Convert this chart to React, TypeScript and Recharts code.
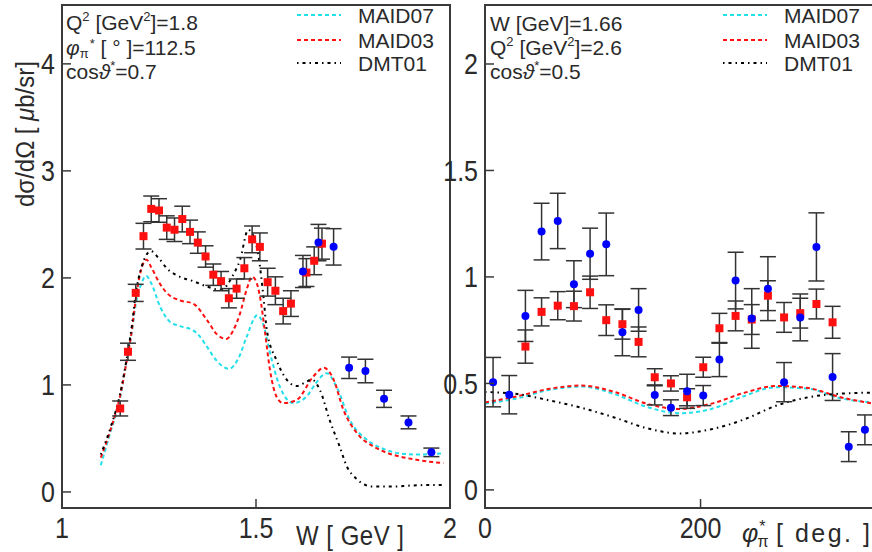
import React from 'react'
import { ComposedChart, Line, Scatter, XAxis, YAxis, ErrorBar, ReferenceArea } from 'recharts'

// ---- left panel: W dependence (Q2=1.8, phi=112.5, cos=0.7) ----
const maid07W: [number, number][] = [
  [1.1, 0.25], [1.125, 0.56], [1.15, 0.88], [1.165, 1.2], [1.18, 1.5], [1.19, 1.75],
  [1.205, 1.95], [1.217, 2.02], [1.23, 1.95], [1.253, 1.73], [1.278, 1.59], [1.304, 1.55],
  [1.338, 1.51], [1.356, 1.45], [1.373, 1.36], [1.4, 1.22], [1.43, 1.15], [1.455, 1.25],
  [1.476, 1.45], [1.503, 1.65], [1.52, 1.55], [1.536, 1.3], [1.562, 0.98], [1.596, 0.83],
  [1.63, 0.89], [1.655, 1.02], [1.682, 1.11], [1.708, 0.98], [1.742, 0.67], [1.785, 0.49],
  [1.83, 0.4], [1.871, 0.36], [1.92, 0.35], [1.98, 0.36],
]
const maid03W: [number, number][] = [
  [1.1, 0.32], [1.125, 0.58], [1.15, 0.9], [1.167, 1.23], [1.18, 1.51], [1.19, 1.8],
  [1.205, 2.09], [1.218, 2.17], [1.23, 2.1], [1.25, 1.96], [1.27, 1.86], [1.304, 1.79],
  [1.338, 1.76], [1.373, 1.61], [1.4, 1.47], [1.424, 1.43], [1.44, 1.5], [1.459, 1.67],
  [1.475, 1.88], [1.49, 2.01], [1.5, 1.97], [1.51, 1.83], [1.523, 1.5], [1.536, 1.14],
  [1.553, 0.89], [1.57, 0.83], [1.605, 0.86], [1.648, 1.08], [1.675, 1.16], [1.7, 1.05],
  [1.725, 0.77], [1.76, 0.55], [1.8, 0.43], [1.828, 0.38], [1.914, 0.3], [1.983, 0.27],
]
const dmt01W: [number, number][] = [
  [1.1, 0.35], [1.125, 0.6], [1.15, 0.92], [1.167, 1.25], [1.18, 1.55], [1.19, 1.85],
  [1.205, 2.1], [1.229, 2.25], [1.25, 2.18], [1.27, 2.09], [1.304, 2.01], [1.338, 1.97],
  [1.373, 1.92], [1.407, 1.89], [1.42, 1.91], [1.44, 2.02], [1.459, 2.17], [1.48, 2.45],
  [1.502, 2.29], [1.519, 1.83], [1.528, 1.51], [1.553, 1.23], [1.579, 1.05], [1.605, 0.99],
  [1.63, 1.03], [1.644, 1.05], [1.665, 0.95], [1.69, 0.67], [1.716, 0.42], [1.734, 0.24],
  [1.76, 0.12], [1.8, 0.05], [1.85, 0.05], [1.9, 0.06], [1.95, 0.065], [1.98, 0.065],
]
// [W, value, error]
const redW: [number, number, number][] = [
  [1.15, 0.78, 0.07], [1.17, 1.31, 0.08], [1.19, 1.86, 0.08], [1.21, 2.39, 0.12],
  [1.23, 2.645, 0.12], [1.25, 2.63, 0.11], [1.27, 2.47, 0.11], [1.29, 2.45, 0.11],
  [1.31, 2.55, 0.12], [1.33, 2.43, 0.11], [1.35, 2.33, 0.1], [1.37, 2.2, 0.1],
  [1.39, 2.03, 0.1], [1.41, 1.97, 0.09], [1.43, 1.81, 0.09], [1.45, 1.9, 0.09],
  [1.47, 2.09, 0.1], [1.49, 2.36, 0.125], [1.51, 2.29, 0.13], [1.53, 1.96, 0.13],
  [1.55, 1.88, 0.13], [1.57, 1.69, 0.12], [1.59, 1.76, 0.12], [1.63, 2.05, 0.13],
  [1.65, 2.16, 0.13], [1.67, 2.32, 0.145],
]
const blueW: [number, number, number][] = [
  [1.621, 2.06, 0.15], [1.661, 2.33, 0.17], [1.7, 2.29, 0.17], [1.74, 1.16, 0.1],
  [1.782, 1.13, 0.11], [1.83, 0.87, 0.08], [1.893, 0.65, 0.06], [1.952, 0.37, 0.04],
]

// ---- right panel: phi dependence (W=1.66, Q2=2.6, cos=0.5) ----
const maid07Phi: [number, number][] = [
  [0, 0.405], [30, 0.43], [60, 0.47], [90, 0.485], [120, 0.45], [150, 0.39], [180, 0.36],
  [210, 0.38], [240, 0.44], [270, 0.482], [300, 0.475], [330, 0.43], [360, 0.41],
]
const maid03Phi: [number, number][] = [
  [0, 0.41], [30, 0.44], [60, 0.475], [90, 0.49], [120, 0.46], [150, 0.405], [180, 0.38],
  [210, 0.405], [240, 0.455], [270, 0.488], [300, 0.478], [330, 0.435], [360, 0.405],
]
const dmt01Phi: [number, number][] = [
  [0, 0.46], [30, 0.45], [60, 0.42], [90, 0.385], [120, 0.34], [150, 0.29], [180, 0.265],
  [210, 0.285], [240, 0.33], [270, 0.395], [300, 0.435], [330, 0.452], [360, 0.457],
]
const redPhi: [number, number, number][] = [
  [37.5, 0.673, 0.078], [52.5, 0.836, 0.066], [67.5, 0.865, 0.066], [82.5, 0.863, 0.07],
  [97.5, 0.928, 0.076], [112.5, 0.797, 0.072], [127.5, 0.778, 0.07], [142.5, 0.695, 0.07],
  [157.5, 0.529, 0.04], [172.5, 0.5, 0.036], [187.5, 0.435, 0.04], [202.5, 0.576, 0.047],
  [217.5, 0.759, 0.07], [232.5, 0.817, 0.07], [247.5, 0.8, 0.07], [262.5, 0.912, 0.07],
  [277.5, 0.81, 0.07], [292.5, 0.83, 0.07], [307.5, 0.873, 0.07], [322.5, 0.787, 0.075],
]
const bluePhi: [number, number, number][] = [
  [7.5, 0.506, 0.116], [22.5, 0.447, 0.09], [37.5, 0.817, 0.12], [52.5, 1.213, 0.133],
  [67.5, 1.263, 0.13], [82.5, 0.966, 0.11], [97.5, 1.109, 0.12], [112.5, 1.153, 0.147],
  [127.5, 0.74, 0.11], [142.5, 0.845, 0.1], [157.5, 0.446, 0.047], [172.5, 0.386, 0.037],
  [187.5, 0.463, 0.08], [202.5, 0.443, 0.047], [217.5, 0.612, 0.08], [232.5, 0.983, 0.133],
  [247.5, 0.805, 0.14], [262.5, 0.945, 0.15], [277.5, 0.506, 0.092], [292.5, 0.81, 0.11],
  [307.5, 1.141, 0.16], [322.5, 0.53, 0.11], [337.5, 0.203, 0.07], [352.5, 0.282, 0.07],
]

const FONT = '"Liberation Sans", Arial, Helvetica, sans-serif'
const AXIS = '#3a3a3a'
const TXT = '#2a2a2a'
const CYAN = '#22e0ea'
const RED = '#ff1010'
const BLUE = '#0000ff'

const toXY = (pts: number[][]) => pts.map(([x, y, err]) => ({ x, y, err }))

// tick labels are a bit taller than wide in the original, hence the scale
function YTick(props: any) {
  const { x, y, payload } = props
  return (
    <g>
      <line x1={x} y1={y} x2={x + 9} y2={y} stroke={AXIS} strokeWidth={1.5} />
      <text transform={`translate(${x - 7},${y + 10.5}) scale(1,1.2)`} textAnchor="end"
        fontSize={25} fontFamily={FONT} fill={TXT}>
        {payload.value}
      </text>
    </g>
  )
}

function XTick(props: any) {
  const { x, y, payload } = props
  return (
    <g>
      <line x1={x} y1={y} x2={x} y2={y - 9} stroke={AXIS} strokeWidth={1.5} />
      <text transform={`translate(${x},${y + 30}) scale(1,1.2)`} textAnchor="middle"
        fontSize={25} fontFamily={FONT} fill={TXT}>
        {payload.value}
      </text>
    </g>
  )
}

const Square = (p: any) => <rect x={p.cx - 4} y={p.cy - 4} width={8} height={8} fill={RED} />
const Dot = (p: any) => <circle cx={p.cx} cy={p.cy} r={4} fill={BLUE} />

interface PanelProps {
  left: number
  width: number
  marginLeft: number
  marginRight: number
  xDomain: [number, number]
  yDomain: [number, number]
  xTicks: number[]
  yTicks: number[]
  maid07: [number, number][]
  maid03: [number, number][]
  dmt01: [number, number][]
  red: [number, number, number][]
  blue: [number, number, number][]
}

function Panel(p: PanelProps) {
  return (
    <div style={{ position: 'absolute', left: p.left, top: 0 }}>
      <ComposedChart
        width={p.width}
        height={552}
        margin={{ top: 5, right: p.marginRight, bottom: 43, left: p.marginLeft - 1 }}
      >
        <XAxis
          type="number"
          dataKey="x"
          domain={p.xDomain}
          ticks={p.xTicks}
          interval={0}
          allowDataOverflow
          height={1}
          tickSize={0}
          tickMargin={0}
          tickLine={false}
          tick={(t: any) => <XTick {...t} />}
          axisLine={{ stroke: AXIS, strokeWidth: 2 }}
        />
        <YAxis
          type="number"
          domain={p.yDomain}
          ticks={p.yTicks}
          interval={0}
          allowDataOverflow
          width={1}
          tickSize={0}
          tickMargin={0}
          tickLine={false}
          tick={(t: any) => <YTick {...t} />}
          axisLine={{ stroke: AXIS, strokeWidth: 2 }}
        />
        <ReferenceArea
          x1={p.xDomain[0]}
          x2={p.xDomain[1]}
          y1={p.yDomain[0]}
          y2={p.yDomain[1]}
          fill="none"
          fillOpacity={0}
          stroke={AXIS}
          strokeWidth={2}
        />
        <Line data={toXY(p.maid07)} dataKey="y" type="monotone" stroke={CYAN} strokeWidth={2}
          strokeDasharray="4 3" dot={false} isAnimationActive={false} />
        <Line data={toXY(p.maid03)} dataKey="y" type="monotone" stroke={RED} strokeWidth={2}
          strokeDasharray="4 3" dot={false} isAnimationActive={false} />
        <Line data={toXY(p.dmt01)} dataKey="y" type="monotone" stroke="#000" strokeWidth={2}
          strokeDasharray="1.5 4 3 4" dot={false} isAnimationActive={false} />
        <Scatter data={toXY(p.red)} dataKey="y" shape={Square} isAnimationActive={false}>
          <ErrorBar dataKey="err" direction="y" width={8} stroke="#333" strokeWidth={1.5} />
        </Scatter>
        <Scatter data={toXY(p.blue)} dataKey="y" shape={Dot} isAnimationActive={false}>
          <ErrorBar dataKey="err" direction="y" width={8} stroke="#333" strokeWidth={1.5} />
        </Scatter>
      </ComposedChart>
    </div>
  )
}

// text with super/subscripts; every piece sets its own baseline offset
type Part = { t: string; s?: 'sup' | 'sub'; i?: boolean; dx?: number; x?: number; ls?: number }
function Rich({ x, y, size, parts, anchor, subShift = 0.28, supShift = 0.42 }: {
  x: number; y: number; size: number; parts: Part[]; anchor?: string; subShift?: number; supShift?: number
}) {
  let cur = 0
  return (
    <text x={x} y={y} fontSize={size} textAnchor={anchor}>
      {parts.map((p, k) => {
        const target = p.s === 'sup' ? -size * supShift : p.s === 'sub' ? size * subShift : 0
        const dy = target - cur
        cur = target
        return (
          <tspan key={k} x={p.x} dy={dy} dx={p.dx} fontSize={p.s ? Math.round(size * 0.62) : size}
            fontStyle={p.i ? 'italic' : undefined} letterSpacing={p.ls}>
            {p.t}
          </tspan>
        )
      })}
    </text>
  )
}

function Legend({ x }: { x: number }) {
  const rows = [
    { label: 'MAID07', color: CYAN, dash: '4 3', y: 15 },
    { label: 'MAID03', color: RED, dash: '4 3', y: 40 },
    { label: 'DMT01', color: '#000', dash: '1.5 4 3 4', y: 63 },
  ]
  return (
    <g>
      {rows.map((r) => (
        <g key={r.label}>
          <line x1={x} x2={x + 44} y1={r.y} y2={r.y} stroke={r.color} strokeWidth={2} strokeDasharray={r.dash} />
          <text x={x + 61} y={r.y + 8} fontSize={21}>{r.label}</text>
        </g>
      ))}
    </g>
  )
}

const q2 = (v: string): Part[] => [
  { t: 'Q' }, { t: '2', s: 'sup' }, { t: ' [GeV' }, { t: '2', s: 'sup' }, { t: ']=' + v },
]
const cosT = (v: string): Part[] => [{ t: 'cos' }, { t: 'ϑ', i: true }, { t: '*', s: 'sup' }, { t: '=' + v }]

function Overlay() {
  return (
    <svg
      width={872}
      height={552}
      style={{ position: 'absolute', left: 0, top: 0, pointerEvents: 'none' }}
      fontFamily={FONT}
      fill={TXT}
    >
      {/* left annotations */}
      <Rich x={66} y={30} size={21} parts={q2('1.8')} />
      <Rich x={66} y={55} size={21} subShift={0.14} supShift={0.34} parts={[
        { t: 'φ', i: true }, { t: 'π', s: 'sub' }, { t: '*', s: 'sup', dx: 1 }, { t: ' [ ° ]=112.5' },
      ]} />
      <Rich x={66} y={79} size={21} parts={cosT('0.7')} />
      <Legend x={297} />

      {/* right annotations */}
      <Rich x={490} y={31} size={21} parts={[{ t: 'W [GeV]=1.66' }]} />
      <Rich x={490} y={55} size={21} parts={q2('2.6')} />
      <Rich x={490} y={79} size={21} parts={cosT('0.5')} />
      <Legend x={723} />

      {/* axis titles */}
      <text transform="translate(34,207) rotate(-90) scale(1,1.1)" fontSize={24}>
        dσ/dΩ [ <tspan fontStyle="italic">μ</tspan>b/sr]
      </text>
      <text transform="translate(296,545) scale(1,1.12)" fontSize={24} letterSpacing={0.5}>W [ GeV ]</text>
      <Rich x={742} y={542} size={25} subShift={0.2} parts={[
        { t: 'φ', i: true }, { t: '*', s: 'sup', dx: 1 }, { t: 'π', s: 'sub', dx: -8 },
        { t: '[ deg. ]', x: 776, ls: 2.5 },
      ]} />
    </svg>
  )
}

export default function App() {
  return (
    <div style={{ position: 'absolute', left: 0, top: 0, width: 872, height: 552, overflow: 'hidden', background: '#fff' }}>
      <Panel
        left={0}
        width={462}
        marginLeft={62}
        marginRight={12}
        xDomain={[1, 2]}
        yDomain={[-0.15, 4.55]}
        xTicks={[1, 1.5, 2]}
        yTicks={[0, 1, 2, 3, 4]}
        maid07={maid07W}
        maid03={maid03W}
        dmt01={dmt01W}
        red={redW}
        blue={blueW}
      />
      <Panel
        left={440}
        width={433}
        marginLeft={45}
        marginRight={0}
        xDomain={[0, 360]}
        yDomain={[-0.085, 2.277]}
        xTicks={[0, 200]}
        yTicks={[0, 0.5, 1, 1.5, 2]}
        maid07={maid07Phi}
        maid03={maid03Phi}
        dmt01={dmt01Phi}
        red={redPhi}
        blue={bluePhi}
      />
      <Overlay />
    </div>
  )
}
